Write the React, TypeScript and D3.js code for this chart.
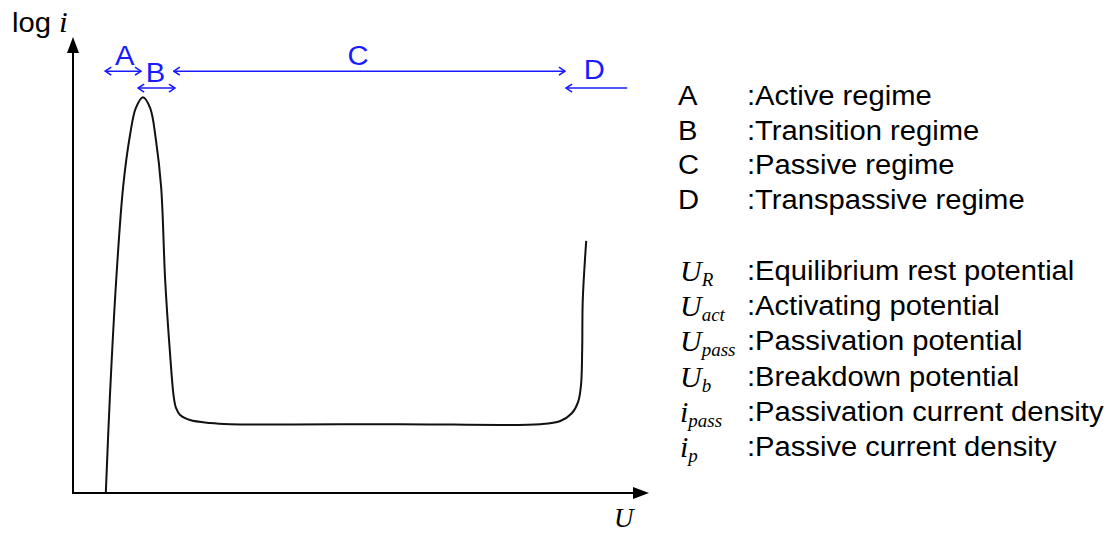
import React from "react";
import * as d3 from "d3";

// Polarisation curve of a passivating metal (potential U vs. log i), arbitrary units 0..100
const curveU = [5.7, 6.4, 7.5, 8.7, 9.9, 10.9, 12.15, 13.4, 14.4, 15.3, 16.0, 16.8, 17.5, 17.9, 18.6, 20.3, 23.8, 27.3, 56.8, 81.1, 84.6, 86.6, 87.7, 88.2, 88.4, 88.5, 89.1];
const curveLogI = [0.2, 21.0, 46.7, 67.1, 78.5, 84.4, 86.8, 84.4, 77.4, 67.1, 46.7, 31.4, 21.0, 18.6, 17.1, 16.0, 15.35, 15.1, 15.1, 15.1, 15.8, 17.5, 20.0, 23.7, 31.4, 42.3, 55.3];

// Regime spans along U, with the arrow direction
const regimeNames = ["A", "B", "C", "D"];
const regimeFrom = [5.6, 11.3, 17.5, 96.2];
const regimeTo = [11.8, 17.7, 85.4, 85.6];
const regimeLevel = [92.5, 88.8, 92.5, 88.8];
const regimeDouble = [true, true, true, false];
const regimeLabelU = [9.0, 14.3, 49.5, 90.5];
const regimeLabelLevel = [93.9, 90.1, 93.9, 90.8];

const regimeDescriptions = [":Active regime", ":Transition regime", ":Passive regime", ":Transpassive regime"];

// Symbols: main letter + subscript
const symbolMain = ["U", "U", "U", "U", "i", "i"];
const symbolSub = ["R", "act", "pass", "b", "pass", "p"];
const symbolDescriptions = [
  ":Equilibrium rest potential",
  ":Activating potential",
  ":Passivation potential",
  ":Breakdown potential",
  ":Passivation current density",
  ":Passive current density",
];

const W = 1109;
const H = 533;
const x = d3.scaleLinear().domain([0, 100]).range([73, 649]);
const y = d3.scaleLinear().domain([0, 100]).range([493, 37]);

const BLUE = "#1a1aff";
const SANS = "Liberation Sans, Arial, sans-serif";
const SERIF = "Liberation Serif, Times New Roman, serif";
const STRETCH = 1.08;

function SansText(props: { x: number; y: number; size: number; fill: string; anchor?: string; children: React.ReactNode }) {
  return (
    <g transform={`translate(${props.x},${props.y}) scale(${STRETCH},1)`}>
      <text x={0} y={0} fontFamily={SANS} fontSize={props.size} fill={props.fill} textAnchor={props.anchor || "start"}>
        {props.children}
      </text>
    </g>
  );
}

export default function App() {
  const pts = curveU.map((u, i) => [x(u), y(curveLogI[i])] as [number, number]);
  const line = d3.line().curve(d3.curveCatmullRom.alpha(0.5))(pts) || "";

  const xAxisY = y(0);
  const yAxisX = x(0);

  return (
    <svg width={W} height={H} style={{ position: "absolute", left: 0, top: 0, background: "#fff" }}>
      <defs>
        <marker id="head" viewBox="0 0 10 10" refX="9" refY="5" markerWidth="10" markerHeight="10" markerUnits="userSpaceOnUse" orient="auto-start-reverse">
          <path d="M3,1 L9,5 L3,9" fill="none" stroke={BLUE} strokeWidth={1.6} />
        </marker>
      </defs>

      {/* axes */}
      <line x1={yAxisX} y1={xAxisY} x2={yAxisX} y2={50} stroke="#000" strokeWidth={2} />
      <path d={`M${yAxisX},37 L${yAxisX - 6},53 L${yAxisX + 6},53 Z`} fill="#000" />
      <line x1={yAxisX - 1} y1={xAxisY} x2={636} y2={xAxisY} stroke="#000" strokeWidth={2} />
      <path d={`M649,${xAxisY} L633,${xAxisY - 6} L633,${xAxisY + 6} Z`} fill="#000" />

      <SansText x={12} y={32} size={27} fill="#000">
        log{" "}
        <tspan fontFamily={SERIF} fontStyle="italic" fontSize={29}>i</tspan>
      </SansText>
      <text x={614} y={527} fontFamily={SERIF} fontStyle="italic" fontSize={27} fill="#000">U</text>

      {/* curve */}
      <path d={line} fill="none" stroke="#111" strokeWidth={2} />

      {/* regime spans */}
      {regimeNames.map((n, i) => (
        <g key={n}>
          <line
            x1={x(regimeFrom[i])}
            y1={y(regimeLevel[i])}
            x2={x(regimeTo[i])}
            y2={y(regimeLevel[i])}
            stroke={BLUE}
            strokeWidth={1.6}
            markerEnd="url(#head)"
            markerStart={regimeDouble[i] ? "url(#head)" : undefined}
          />
          <SansText x={x(regimeLabelU[i])} y={y(regimeLabelLevel[i])} size={27} fill={BLUE} anchor="middle">
            {n}
          </SansText>
        </g>
      ))}

      {/* legend: regimes */}
      {regimeNames.map((n, i) => (
        <g key={"l" + n}>
          <SansText x={678} y={105 + i * 34.5} size={27} fill="#000">{n}</SansText>
          <SansText x={747} y={105 + i * 34.5} size={27} fill="#000">{regimeDescriptions[i]}</SansText>
        </g>
      ))}

      {/* legend: symbols */}
      {symbolMain.map((m, i) => (
        <g key={"s" + i} fill="#000">
          <text x={680} y={281 + i * 35.2} fontFamily={SERIF} fontStyle="italic" fontSize={30}>
            {m}
            <tspan fontSize={19} dy={5}>{symbolSub[i]}</tspan>
          </text>
          <SansText x={747} y={280 + i * 35.2} size={27} fill="#000">{symbolDescriptions[i]}</SansText>
        </g>
      ))}
    </svg>
  );
}
